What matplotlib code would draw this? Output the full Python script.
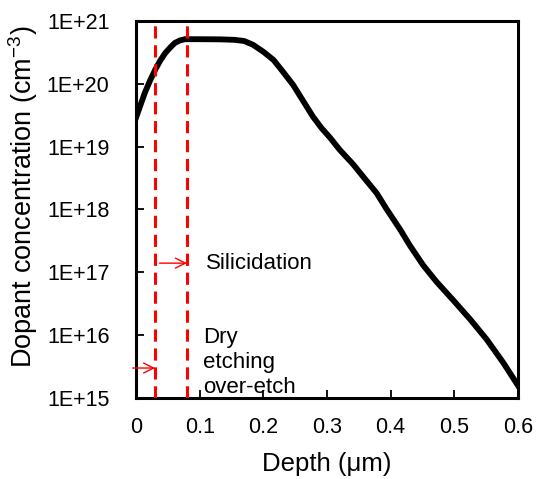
import numpy as np
import matplotlib
matplotlib.use('Agg')
import matplotlib.pyplot as plt
from matplotlib.ticker import FixedLocator, FuncFormatter, NullLocator

plt.rcParams['font.family'] = ['Liberation Sans', 'DejaVu Sans']
plt.rcParams['mathtext.fontset'] = 'custom'
plt.rcParams['mathtext.rm'] = 'Liberation Sans'
plt.rcParams['mathtext.it'] = 'Liberation Sans:italic'

# perfil de dopaje
profundidad = [0, 0.007, 0.014, 0.022, 0.03, 0.038, 0.046, 0.054, 0.061, 0.069,
               0.077, 0.10, 0.132, 0.155, 0.17, 0.184, 0.20, 0.216, 0.231, 0.247,
               0.263, 0.278, 0.291, 0.305, 0.32, 0.341, 0.357, 0.378, 0.394, 0.415,
               0.43, 0.451, 0.472, 0.498, 0.525, 0.551, 0.577, 0.6]
concentracion = [2.88e19, 4.57e19, 7.24e19, 1.12e20, 1.66e20, 2.34e20, 3.09e20, 3.80e20, 4.47e20, 4.90e20,
                 5.13e20, 5.13e20, 5.10e20, 5.01e20, 4.80e20, 4.17e20, 3.24e20, 2.40e20, 1.55e20, 9.55e19,
                 5.25e19, 3.0e19, 2.0e19, 1.38e19, 8.91e18, 5.25e18, 3.31e18, 1.82e18, 1.0e18, 4.79e17,
                 2.69e17, 1.3e17, 7.08e16, 3.63e16, 1.78e16, 8.51e15, 3.63e15, 1.58e15]

lineas_x = [0.03, 0.08]
flecha_silicidacion = (0.037, 0.08, 1.4e17)
flecha_grabado = (-0.005, 0.03, 3.0e15)

fig = plt.figure(figsize=(5.36, 4.79), dpi=100)
ax = fig.add_axes([0.2537, 0.1691, 0.7127, 0.7871])

ax.plot(profundidad, concentracion, '-k', lw=4.2, solid_joinstyle='round', zorder=3)

for xv in lineas_x:
    ax.axvline(xv, color='#ff0000', lw=2.2, ls=(0, (4, 2.2)), zorder=4)

for x0, x1, yv in [flecha_silicidacion, flecha_grabado]:
    ax.annotate('', xy=(x1, yv), xytext=(x0, yv),
                arrowprops=dict(arrowstyle='->', color='#ff0000', lw=1.0,
                                mutation_scale=18, shrinkA=0, shrinkB=0),
                annotation_clip=False, zorder=5)

ax.text(0.11, 1.4e17, 'Silicidation', fontsize=16, va='center', ha='left')
ax.text(0.105, 3.65e15, 'Dry\netching\nover-etch', fontsize=16,
        va='center', ha='left', linespacing=1.26)

ax.set_yscale('log')
ax.set_xlim(0, 0.6)
ax.set_ylim(1e15, 1e21)
ax.xaxis.set_major_locator(FixedLocator([0, 0.1, 0.2, 0.3, 0.4, 0.5, 0.6]))
ax.xaxis.set_major_formatter(FuncFormatter(lambda v, p: '0' if v == 0 else f'{v:.1f}'))
ax.yaxis.set_major_locator(FixedLocator([10.0 ** k for k in range(15, 22)]))
ax.yaxis.set_major_formatter(FuncFormatter(lambda v, p: f'1E+{int(round(np.log10(v)))}'))
ax.yaxis.set_minor_locator(NullLocator())

ax.tick_params(direction='in', length=6, width=1.3, labelsize=15.5)
ax.tick_params(axis='y', pad=19)
ax.tick_params(axis='x', pad=14)
for s in ax.spines.values():
    s.set_linewidth(2.2)

ax.set_xlabel('Depth (μm)', fontsize=18.5, labelpad=10)
ax.set_ylabel('Dopant concentration (cm$^{-3}$)', fontsize=19.5)
ax.yaxis.set_label_coords(-0.251, 0.534)

fig.savefig('out.png', dpi=100)
